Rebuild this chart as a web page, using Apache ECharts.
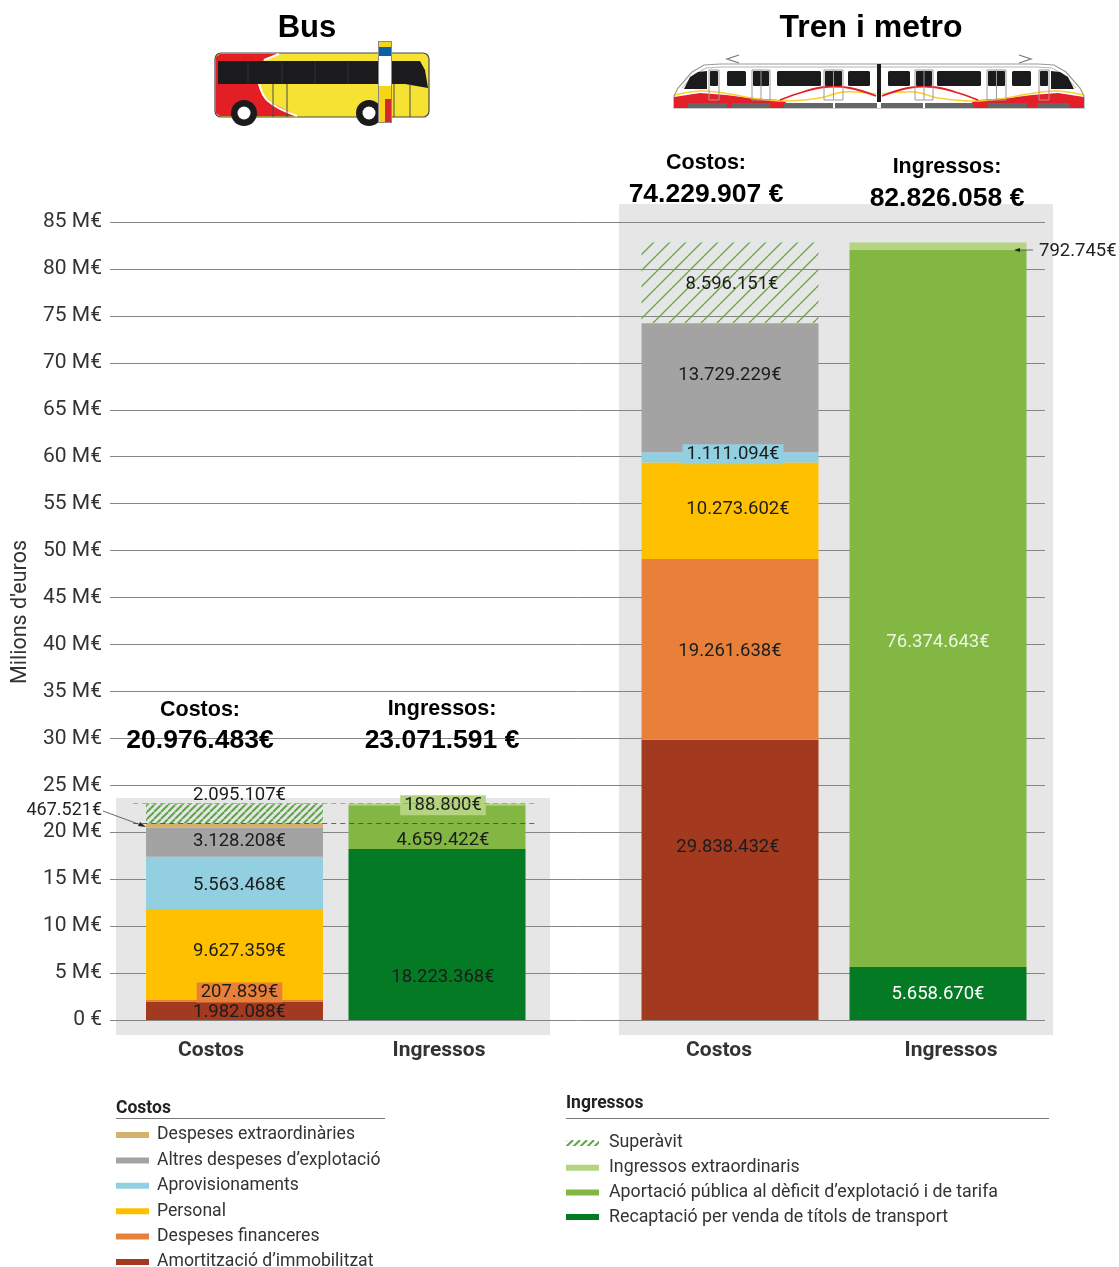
<!DOCTYPE html>
<html>
<head>
<meta charset="utf-8">
<title>Costos i ingressos</title>
<script src="https://cdn.jsdelivr.net/npm/echarts@6/dist/echarts.min.js"></script>
<style>
html, body { margin: 0; padding: 0; background: #fff; }
#chart { width: 1119px; height: 1267px; }
</style>
</head>
<body>
<div id="chart"></div>
<script>
var categories = ['Costos', 'Ingressos'];
var yTicks = { min: 0, max: 85000000, interval: 5000000 };

// each array: bus costos, bus ingressos, tren costos, tren ingressos
var amortitzacio = [1982088, null, 29838432, null];
var financeres = [207839, null, 19261638, null];
var personal = [9627359, null, 10273602, null];
var aprovisionaments = [5563468, null, 1111094, null];
var altres = [3128208, null, 13729229, null];
var extraordinaries = [467521, null, 15912, null];
var superavit = [2095107, null, 8596151, null];
var recaptacio = [null, 18223368, null, 5658670];
var aportacio = [null, 4659422, null, 76374643];
var ingressosExtra = [null, 188800, null, 792745];

var busCostTotal = 20976483;
var busIncomeTotal = 23071591;

var costNames = ['Despeses extraordinàries', 'Altres despeses d’explotació', 'Aprovisionaments', 'Personal', 'Despeses financeres', 'Amortització d’immobilitzat'];
var incomeNames = ['Superàvit', 'Ingressos extraordinaris', 'Aportació pública al dèficit d’explotació i de tarifa', 'Recaptació per venda de títols de transport'];

var FONT = 'Roboto';
var HEAD = '"Liberation Sans"';

function hatch(size, width, color) {
    var c = document.createElement('canvas');
    c.width = size;
    c.height = size;
    var ctx = c.getContext('2d');
    ctx.strokeStyle = color;
    ctx.lineWidth = width;
    [-size, 0, size].forEach(function (o) {
        ctx.beginPath();
        ctx.moveTo(o, size);
        ctx.lineTo(o + size, 0);
        ctx.stroke();
    });
    return { image: c, repeat: 'repeat' };
}

function euro(v) {
    return String(v).replace(/\B(?=(\d{3})+$)/g, '.') + '€';
}

// name, values, color, label tweak per bar [dx, dy] (null = no label), optional box colour and text colour
var stackDefs = [
    { name: costNames[5], data: amortitzacio, color: '#a33a1f', off: [[5, 2], null, [-2, -33], null] },
    { name: costNames[4], data: financeres, color: '#e98039', off: [[5, -8], null, [0, 2], null], box: ['#e98039', null, null, null] },
    { name: costNames[3], data: personal, color: '#ffc000', off: [[5, -3], null, [8, -1], null] },
    { name: costNames[2], data: aprovisionaments, color: '#92cfe0', off: [[5, 2], null, [3, -3], null], box: [null, null, '#92cfe0', null] },
    { name: costNames[1], data: altres, color: '#a3a3a3', off: [[5, -1], null, [0, -12], null] },
    { name: costNames[0], data: extraordinaries, color: '#d2b26c', off: [null, null, null, null] },
    { name: incomeNames[0], data: superavit, off: [[5, -18], null, [2, 2], null], pattern: [hatch(7, 2, '#5fa64a'), null, hatch(16, 1.4, '#6aa84f'), null] },
    { name: incomeNames[3], data: recaptacio, color: '#047a24', off: [null, [6, 43], null, [0, 1]], text: [null, null, null, '#ffffff'] },
    { name: incomeNames[2], data: aportacio, color: '#82b743', off: [null, [6, 13], null, [0, 34]], text: [null, null, null, '#eef5e2'] },
    { name: incomeNames[1], data: ingressosExtra, color: '#b5d47f', off: [null, [6, 1], null, null], box: [null, '#b5d47f', null, null] }
];

function seriesFor(def, from, stack, axisIndex) {
    var items = [from, from + 1].map(function (i) {
        var item = { value: def.data[i] };
        var off = def.off[i];
        if (def.pattern && def.pattern[i]) {
            item.itemStyle = { color: def.pattern[i] };
        }
        if (off && def.data[i] != null) {
            item.label = {
                show: true,
                position: 'inside',
                offset: off,
                color: (def.text && def.text[i]) || '#1c1c1c',
                backgroundColor: (def.box && def.box[i]) || 'transparent',
                padding: (def.box && def.box[i]) ? [1, 4, 0, 4] : 0
            };
        }
        return item;
    });
    return {
        name: def.name,
        type: 'bar',
        stack: stack,
        xAxisIndex: axisIndex,
        yAxisIndex: axisIndex,
        barWidth: 177,
        silent: true,
        itemStyle: { color: def.color || def.pattern[from] },
        label: {
            show: false,
            fontFamily: FONT,
            fontSize: 18.5,
            formatter: function (p) { return euro(p.value); }
        },
        data: items
    };
}

var series = [];
stackDefs.forEach(function (def) {
    series.push(seriesFor(def, 0, 'bus', 1));
    series.push(seriesFor(def, 2, 'tren', 2));
});

// dashed guides at the bus totals
series.push({
    type: 'line',
    xAxisIndex: 1,
    yAxisIndex: 1,
    data: [],
    silent: true,
    markLine: {
        silent: true,
        symbol: 'none',
        label: { show: false },
        data: [
            { yAxis: busCostTotal, lineStyle: { color: '#444', type: [5, 4], width: 0.8 } },
            { yAxis: busIncomeTotal, lineStyle: { color: '#999', type: [5, 4], width: 0.8 } }
        ]
    }
});

function rect(x, y, w, h, fill, r, z) {
    return { type: 'rect', z: z === undefined ? 20 : z, shape: { x: x, y: y, width: w, height: h, r: r || 0 }, style: { fill: fill } };
}
function line(pts, color, width, z) {
    return { type: 'polyline', z: z || 21, shape: { points: pts }, style: { stroke: color, lineWidth: width || 1, fill: null } };
}
function poly(pts, fill, z) {
    return { type: 'polygon', z: z || 20, shape: { points: pts }, style: { fill: fill } };
}
function label(x, y, text, size, align, bold, family, color) {
    return {
        type: 'text', z: 30, x: x, y: y,
        style: {
            text: text,
            fontSize: size,
            fontFamily: family || HEAD,
            fontWeight: bold ? 'bold' : 'normal',
            fill: color || '#000',
            align: align || 'center',
            verticalAlign: 'middle'
        }
    };
}

function busIcon() {
    var e = [];
    e.push({ type: 'rect', z: 20, shape: { x: 215, y: 53, width: 214, height: 64, r: 6 }, style: { fill: '#f5e232', stroke: '#4a4a4a', lineWidth: 1.2 } });
    e.push({ type: 'polygon', z: 21, shape: { points: [[216, 57], [220, 54], [279, 54], [262, 61], [258, 84], [266, 100], [297, 116], [220, 116], [216, 113]] }, style: { fill: '#e31e24' } });
    e.push(line([[279, 54], [264, 60]], '#fff', 2, 22));
    e.push({ type: 'polyline', z: 22, shape: { points: [[259, 84], [268, 101], [297, 116]], smooth: 0.4 }, style: { stroke: '#fff', lineWidth: 2, fill: null } });
    e.push(poly([[218, 61], [420, 61], [425, 70], [428, 88], [405, 84], [218, 84]], '#1b1a1c', 23));
    [248, 282, 315, 348].forEach(function (x) { e.push(line([[x, 62], [x, 83]], '#333', 1, 24)); });
    [273, 287, 394, 410].forEach(function (x) { e.push(line([[x, 84], [x, 117]], '#4a4a4a', 1, 24)); });
    [[244, 113], [369, 113]].forEach(function (c) {
        e.push({ type: 'circle', z: 25, shape: { cx: c[0], cy: c[1], r: 13 }, style: { fill: '#1b1a1c' } });
        e.push({ type: 'circle', z: 26, shape: { cx: c[0], cy: c[1], r: 6.5 }, style: { fill: '#fff' } });
    });
    e.push(rect(378, 41, 14, 82, '#8a8a8a', 0, 27));
    e.push(rect(379, 42, 12, 5, '#f7d417', 0, 28));
    e.push(rect(379, 47, 12, 9, '#0b5fa5', 0, 28));
    e.push(rect(379, 56, 12, 30, '#ffffff', 0, 28));
    e.push(rect(379, 86, 12, 13, '#f7d417', 0, 28));
    e.push(rect(379, 99, 6, 23, '#f7d417', 0, 28));
    e.push(rect(385, 99, 6, 23, '#d7262e', 0, 28));
    return e;
}

function trainIcon() {
    var e = [];
    // body
    e.push({
        type: 'polygon', z: 20,
        shape: { points: [[674, 108], [674, 96], [678, 88], [692, 72], [704, 65], [720, 64], [1038, 64], [1054, 65], [1066, 72], [1080, 88], [1084, 96], [1084, 108]] },
        style: { fill: '#ffffff', stroke: '#9a9a9a', lineWidth: 1.2 }
    });
    e.push(line([[682, 88], [694, 75], [706, 68], [722, 67], [1036, 67], [1052, 68], [1064, 75], [1076, 88]], '#b5b5b5', 1));
    // red base and stripes
    e.push(poly([[674, 108], [674, 97], [700, 93], [726, 95], [750, 98], [780, 100], [786, 102], [786, 108]], '#e3202a', 21));
    e.push(poly([[1084, 108], [1084, 97], [1058, 93], [1032, 95], [1008, 98], [978, 100], [972, 102], [972, 108]], '#e3202a', 21));
    e.push(rect(786, 103, 186, 5, '#ffffff', 0, 21));
    e.push({ type: 'polyline', z: 22, shape: { points: [[675, 95], [702, 91], [730, 94], [752, 98], [785, 101], [820, 98], [843, 92], [876, 94]], smooth: 0.4 }, style: { stroke: '#ffce2e', lineWidth: 1.6, fill: null } });
    e.push({ type: 'polyline', z: 22, shape: { points: [[1083, 95], [1056, 91], [1028, 94], [1006, 98], [973, 101], [938, 98], [915, 92], [882, 94]], smooth: 0.4 }, style: { stroke: '#ffce2e', lineWidth: 1.6, fill: null } });
    e.push({ type: 'polyline', z: 23, shape: { points: [[780, 100], [803, 92], [825, 87], [850, 88], [876, 96]], smooth: 0.4 }, style: { stroke: '#e3202a', lineWidth: 1.8, fill: null } });
    e.push({ type: 'polyline', z: 23, shape: { points: [[978, 100], [955, 92], [933, 87], [908, 88], [882, 96]], smooth: 0.4 }, style: { stroke: '#e3202a', lineWidth: 1.8, fill: null } });
    // undercarriage
    [[688, 39], [732, 38], [784, 49], [835, 42], [881, 42], [925, 48], [988, 39], [1037, 32]].forEach(function (s) {
        e.push(rect(s[0], 103, s[1], 5, '#666666', 0, 24));
    });
    // windows
    [[727, 19], [777, 44], [848, 22], [888, 22], [937, 44], [1012, 19]].forEach(function (s) {
        e.push(rect(s[0], 71, s[1], 15, '#1b1a1c', 1.5, 24));
    });
    e.push(poly([[684, 89], [690, 77], [698, 72], [707, 71], [707, 89]], '#1b1a1c', 24));
    e.push(poly([[1074, 89], [1068, 77], [1060, 72], [1051, 71], [1051, 89]], '#1b1a1c', 24));
    // doors
    [[710, 8], [753, 16], [825, 17], [916, 16], [988, 17], [1040, 8]].forEach(function (s) {
        e.push(rect(s[0], 71, s[1], 15, '#1b1a1c', 1, 24));
        e.push({ type: 'rect', z: 25, shape: { x: s[0] - 1, y: 70, width: s[1] + 2, height: 30 }, style: { fill: null, stroke: '#9a9a9a', lineWidth: 1 } });
        if (s[1] > 10) {
            e.push(line([[s[0] + s[1] / 2, 70], [s[0] + s[1] / 2, 100]], '#9a9a9a', 1, 25));
        }
    });
    e.push(rect(877, 64, 4, 38, '#1b1a1c', 0, 26));
    // direction chevrons
    e.push(line([[739, 55], [727, 59], [739, 63]], '#777', 1.2));
    e.push(line([[1019, 55], [1031, 59], [1019, 63]], '#777', 1.2));
    return e;
}

var graphics = [
    // grey panels behind the bars
    rect(116, 798, 434, 237, '#e6e6e6', 0, -1),
    rect(619, 204, 434, 831, '#e6e6e6', 0, -1),
    // headings
    label(307, 28, 'Bus', 31, 'center', true),
    label(871, 28, 'Tren i metro', 32, 'center', true),
    label(200, 710, 'Costos:', 21.5, 'center', true),
    label(200, 741, '20.976.483€', 26.5, 'center', true),
    label(442, 709, 'Ingressos:', 21.5, 'center', true),
    label(442, 741, '23.071.591 €', 26.5, 'center', true),
    label(706, 163, 'Costos:', 21.5, 'center', true),
    label(706, 195, '74.229.907 €', 26.5, 'center', true),
    label(947, 167, 'Ingressos:', 21.5, 'center', true),
    label(947, 199, '82.826.058 €', 26.5, 'center', true),
    // callouts for the thin segments
    label(102, 810, '467.521€', 18, 'right', false, FONT, '#222'),
    line([[103, 811], [141, 825]], '#444', 0.8),
    poly([[146, 827], [138, 826], [140, 822]], '#222', 22),
    label(1039, 251, '792.745€', 18.5, 'left', false, FONT, '#222'),
    line([[1018, 250], [1033, 250]], '#444', 0.8),
    poly([[1014, 250], [1020, 248], [1020, 252]], '#222', 22),
    // legend headings
    label(116, 1109, 'Costos', 17.5, 'left', true, FONT, '#222'),
    line([[116, 1118.5], [385, 1118.5]], '#777', 1),
    label(566, 1104, 'Ingressos', 17.5, 'left', true, FONT, '#222'),
    line([[566, 1118.5], [1049, 1118.5]], '#777', 1)
].concat(busIcon(), trainIcon());

function legendFor(names, left, top, gap, size, textPad) {
    return {
        orient: 'vertical',
        left: left,
        top: top,
        height: 140 + 30,
        icon: 'rect',
        itemWidth: 33,
        itemHeight: 6,
        itemGap: gap,
        padding: 0,
        selectedMode: false,
        textStyle: { fontFamily: FONT, fontSize: size, color: '#333', padding: [0, 0, 0, textPad], lineHeight: 18 },
        data: names
    };
}

var chart = echarts.init(document.getElementById('chart'));
var BAR_TOP = 222;
var BAR_HEIGHT = 798;
var hiddenY = { type: 'value', show: false, min: yTicks.min, max: yTicks.max, interval: yTicks.interval };

function catAxis(index, pad) {
    return {
        type: 'category',
        gridIndex: index,
        data: categories,
        axisLine: { show: false },
        axisTick: { show: false },
        axisLabel: {
            margin: 20,
            formatter: function (v, i) { return '{' + (i === 0 ? 'a' : 'b') + '|' + v + '}'; },
            rich: {
                a: { fontFamily: FONT, fontWeight: 'bold', fontSize: 21, color: '#333', padding: [0, pad[0], 0, 0] },
                b: { fontFamily: FONT, fontWeight: 'bold', fontSize: 21, color: '#333', padding: [0, 0, 0, pad[1]] }
            }
        }
    };
}

chart.setOption({
    animation: false,
    backgroundColor: '#fff',
    grid: [
        { left: 110, top: BAR_TOP, width: 935, height: BAR_HEIGHT, outerBoundsMode: 'none' },
        { left: 133.25, top: BAR_TOP, width: 405, height: BAR_HEIGHT, outerBoundsMode: 'none' },
        { left: 626, top: BAR_TOP, width: 416, height: BAR_HEIGHT, outerBoundsMode: 'none' }
    ],
    xAxis: [
        { type: 'value', gridIndex: 0, show: false },
        catAxis(1, [47, 4]),
        catAxis(2, [22, 26])
    ],
    yAxis: [
        {
            type: 'value',
            gridIndex: 0,
            min: yTicks.min,
            max: yTicks.max,
            interval: yTicks.interval,
            name: 'Milions d\'euros',
            nameLocation: 'middle',
            nameRotate: 90,
            nameGap: 78,
            nameTextStyle: { fontFamily: FONT, fontSize: 21.5, color: '#333', padding: [0, 0, 0, 18] },
            axisLine: { show: false },
            axisTick: { show: false },
            axisLabel: {
                margin: 8,
                fontFamily: FONT,
                fontSize: 21,
                color: '#333',
                padding: [4, 0, 0, 0],
                formatter: function (v) { return v === 0 ? '0 €' : (v / 1000000) + ' M€'; }
            },
            splitLine: { show: true, lineStyle: { color: '#858585', width: 1 } }
        },
        Object.assign({ gridIndex: 1 }, hiddenY),
        Object.assign({ gridIndex: 2 }, hiddenY)
    ],
    legend: [
        legendFor(costNames, 116, 1126, 7.4, 17.6, 3),
        legendFor(incomeNames, 566, 1134, 6.7, 17.8, 5)
    ],
    graphic: { elements: graphics },
    series: series
});
</script>
</body>
</html>
